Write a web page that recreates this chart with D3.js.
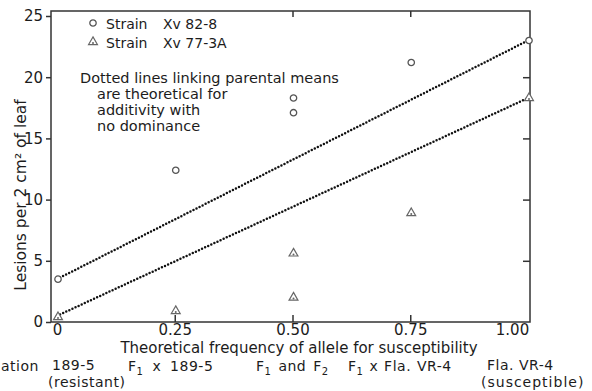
<!DOCTYPE html>
<html>
<head>
<meta charset="utf-8">
<script src="https://cdn.jsdelivr.net/npm/d3@7"></script>
<style>
  body { margin: 0; background: #fff; }
  svg { display: block; font-family: "DejaVu Sans", sans-serif; }
  .axis path, .axis line { stroke: #333; stroke-width: 1.5; }
  .axis text { fill: #1c1c1c; font-size: 15px; font-family: "DejaVu Sans", sans-serif; }
  .row { letter-spacing: 0.5px; }
</style>
</head>
<body>
<div id="graph"></div>
<script>
// Theoretical frequency of allele for susceptibility
const freq82 = [0, 0.25, 0.5, 0.5, 0.75, 1.0]
const lesions82 = [3.5, 12.4, 18.3, 17.1, 21.2, 23.0]
const freq77 = [0, 0.25, 0.5, 0.5, 0.75, 1.0]
const lesions77 = [0.4, 0.9, 5.6, 2.0, 8.9, 18.3]

// parental means joined by the dotted lines
const parents82 = [3.5, 23.0]
const parents77 = [0.5, 18.3]

const xTicks = [0, 0.25, 0.5, 0.75, 1.0]
const xTickLabels = ["0", "0.25", "0.50", "0.75", "1.00"]
const yTicks = [0, 5, 10, 15, 20, 25]

const width = 592, height = 391

const svg = d3.select('#graph').append('svg').attr('width', width).attr('height', height)

// plot frame
const frame = { left: 51, right: 530, top: 11, bottom: 322 }

const xScale = d3.scaleLinear().domain([0, 1]).range([57, 528])
const yScale = d3.scaleLinear().domain([0, 25]).range([322, 16])

// left axis with outward ticks and labels
svg.append('g').attr('class', 'axis')
  .attr('transform', `translate(${frame.left}, 0)`)
  .call(d3.axisLeft(yScale).tickValues(yTicks).tickSize(5).tickPadding(3).tickFormat(d3.format('d')))
  .call(g => g.select('.domain').remove())

// bottom axis labels (the ticks themselves point inward)
svg.append('g').attr('class', 'axis xlabels')
  .attr('transform', `translate(0, ${frame.bottom})`)
  .call(d3.axisBottom(xScale).tickValues(xTicks).tickSize(0).tickPadding(2).tickFormat((d, i) => xTickLabels[i]))
  .call(g => g.select('.domain').remove())
// the 1.00 label sits a bit left of the corner in the original
svg.selectAll('.xlabels text').filter(d => d === 1).attr('dx', -16)

// inner ticks on the bottom, top and right
svg.append('g').attr('class', 'axis')
  .attr('transform', `translate(0, ${frame.bottom})`)
  .call(d3.axisTop(xScale).tickValues([0.25, 0.5, 0.75]).tickSize(7).tickFormat(''))
  .call(g => g.select('.domain').remove())
svg.append('g').attr('class', 'axis')
  .attr('transform', `translate(0, ${frame.top})`)
  .call(d3.axisBottom(xScale).tickValues([0.5, 0.75]).tickSize(6).tickFormat(''))
  .call(g => g.select('.domain').remove())
svg.append('g').attr('class', 'axis')
  .attr('transform', `translate(${frame.right}, 0)`)
  .call(d3.axisLeft(yScale).tickValues([5, 10, 15, 20]).tickSize(7).tickFormat(''))
  .call(g => g.select('.domain').remove())

// frame box
svg.append('rect')
  .attr('x', frame.left).attr('y', frame.top)
  .attr('width', frame.right - frame.left).attr('height', frame.bottom - frame.top)
  .attr('fill', 'none').attr('stroke', '#333').attr('stroke-width', 1.5)

// dotted lines linking parental means
const line = d3.line().x(d => xScale(d[0])).y(d => yScale(d[1]))
const dotted = [[[0, parents82[0]], [1, parents82[1]]], [[0, parents77[0]], [1, parents77[1]]]]
svg.selectAll('.parental').data(dotted).enter().append('path')
  .attr('class', 'parental')
  .attr('d', line)
  .attr('fill', 'none')
  .attr('stroke', '#111')
  .attr('stroke-width', 2.5)
  .attr('stroke-linecap', 'round')
  .attr('stroke-dasharray', '0 3.4')

// markers
const diamond = d3.symbol().type(d3.symbolCircle).size(32)
const triangle = d3.symbol().type(d3.symbolTriangle).size(34)

const pts82 = freq82.map((f, i) => [f, lesions82[i]])
const pts77 = freq77.map((f, i) => [f, lesions77[i]])

function drawDiamond(sel) {
  sel.append('path').attr('d', diamond).attr('fill', '#fff').attr('stroke', '#555').attr('stroke-width', 1.3)
}
function drawTriangle(sel) {
  sel.append('path').attr('d', triangle).attr('fill', '#fff').attr('stroke', '#666').attr('stroke-width', 1.2)
  sel.append('circle').attr('r', 1).attr('cy', 1).attr('fill', '#666')
}

svg.selectAll('.p82').data(pts82).enter().append('g')
  .attr('class', 'p82')
  .attr('transform', d => `translate(${xScale(d[0]) + 1}, ${yScale(d[1])})`)
  .call(drawDiamond)

svg.selectAll('.p77').data(pts77).enter().append('g')
  .attr('class', 'p77')
  .attr('transform', d => `translate(${xScale(d[0]) + 1}, ${yScale(d[1])})`)
  .call(drawTriangle)

// legend
svg.append('g').attr('transform', 'translate(93, 23)').call(drawDiamond)
svg.append('g').attr('transform', 'translate(93, 42)').call(drawTriangle)

const txt = (x, y, s, size, anchor) => svg.append('text')
  .attr('x', x).attr('y', y)
  .attr('font-size', size)
  .attr('fill', '#1c1c1c')
  .attr('text-anchor', anchor || 'start')
  .text(s)

txt(106, 29, 'Strain', 14)
txt(163, 29, 'Xv 82-8', 14)
txt(106, 48, 'Strain', 14)
txt(163, 48, 'Xv 77-3A', 14)

// note
txt(80, 83, 'Dotted lines linking parental means', 14.5)
txt(97, 99, 'are theoretical for', 14.5)
txt(97, 115, 'additivity with', 14.5)
txt(97, 131, 'no dominance', 14.5)

// axis titles
svg.append('text')
  .attr('transform', 'translate(26, 195) rotate(-90)')
  .attr('text-anchor', 'middle')
  .attr('font-size', 15.5)
  .attr('fill', '#1c1c1c')
  .text('Lesions per 2 cm² of leaf')

txt(299, 353, 'Theoretical frequency of allele for susceptibility', 15, 'middle')

// generation row
const rowY = 371
const rowSize = 14

// two-line labels kept in one text element
const twoLine = (x1, x2, first, second) => {
  const t = txt(x1, rowY - 1, first, rowSize).attr('class', 'row')
  t.append('tspan').attr('x', x2).attr('dy', 16.5).text(second)
  return t
}

txt(1, rowY, 'ation', rowSize).attr('class', 'row')
twoLine(52, 48, '189-5', '(resistant)')

const f1 = (x, rest) => {
  const t = txt(x, rowY, 'F', rowSize).attr('class', 'row').attr('word-spacing', 4)
  t.append('tspan').attr('dy', 4).attr('font-size', 10).text('1')
  t.append('tspan').attr('dy', -4).text(rest)
  return t
}
f1(128, ' x 189-5')
const f12 = txt(256, rowY, 'F', rowSize).attr('class', 'row').attr('word-spacing', 2)
f12.append('tspan').attr('dy', 4).attr('font-size', 10).text('1')
f12.append('tspan').attr('dy', -4).text(' and F')
f12.append('tspan').attr('dy', 4).attr('font-size', 10).text('2')
f1(348, ' x Fla. VR-4').attr('word-spacing', 1)
twoLine(487, 481, 'Fla. VR-4', '(susceptible)')
  .select('tspan').attr('letter-spacing', 1)
</script>
</body>
</html>
